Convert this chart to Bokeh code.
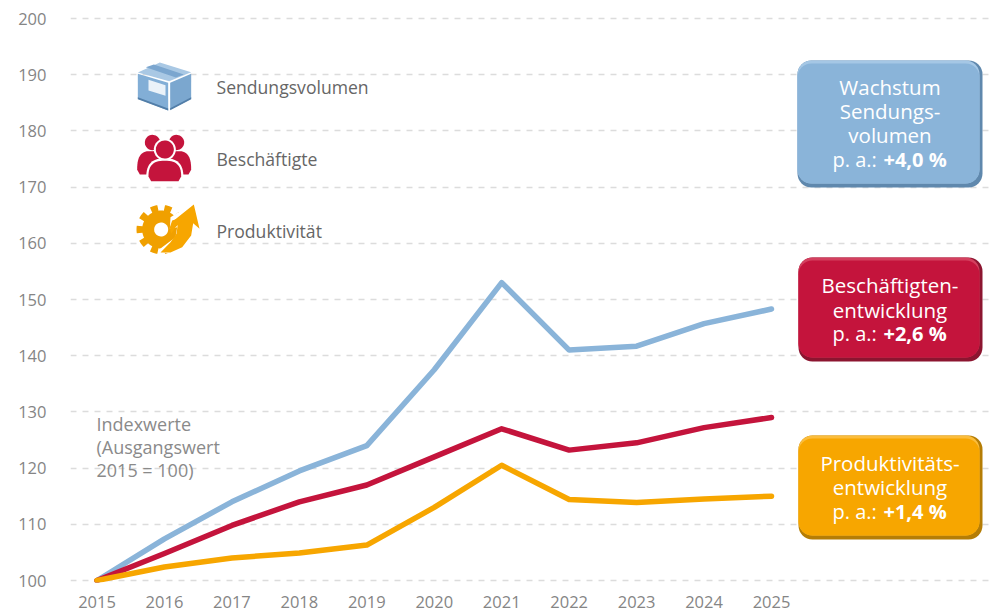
import numpy as np
from bokeh.plotting import figure
from bokeh.models import Range1d, Label, BoxAnnotation, FixedTicker
from bokeh.embed import file_html
from bokeh.resources import INLINE

years = [2015, 2016, 2017, 2018, 2019, 2020, 2021, 2022, 2023, 2024, 2025]
sendungen = [100, 107.4, 114, 119.5, 124, 137.5, 153, 141, 141.7, 145.7, 148.3]
beschaeftigte = [100, 104.8, 109.8, 114, 117, 122, 127, 123.2, 124.5, 127.2, 129]
produktivitaet = [100, 102.4, 104, 104.9, 106.3, 113, 120.5, 114.4, 113.9, 114.5, 115]
y_ticks = list(range(100, 201, 10))

BLUE, RED, ORANGE = "#8ab4d9", "#c4143c", "#f7a600"
FONT = "Open Sans"
W, H = 990, 612

PX_Y = 5.62
PX_X = 67.45
FRAME_L, FRAME_B = 70, 582
x0 = 2015 - (96.5 - FRAME_L) / PX_X
x1 = 2015 + (W - 96.5) / PX_X
y1 = 100 + 580 / PX_Y
y0 = 100 - (FRAME_B - 580) / PX_Y

p = figure(width=W, height=H, output_backend="svg", toolbar_location=None,
           x_range=Range1d(x0, x1), y_range=Range1d(y0, y1),
           min_border_left=FRAME_L, min_border_right=0, min_border_top=0, min_border_bottom=H - FRAME_B)
p.outline_line_color = None
p.background_fill_color = "white"
p.xgrid.visible = False
p.ygrid.grid_line_color = "#dcdcdc"
p.ygrid.grid_line_dash = "6 6"
p.ygrid.grid_line_width = 1.5
p.ygrid.ticker = FixedTicker(ticks=y_ticks)
for ax in (p.xaxis[0], p.yaxis[0]):
    ax.axis_line_color = None
    ax.major_tick_line_color = None
    ax.minor_tick_line_color = None
    ax.major_label_text_font = FONT
    ax.major_label_text_font_size = "16.5px"
    ax.major_label_text_color = "#858585"
p.xaxis[0].ticker = FixedTicker(ticks=years)
p.yaxis[0].ticker = FixedTicker(ticks=y_ticks)
p.xaxis[0].major_label_standoff = 7
p.yaxis[0].major_label_standoff = 18


def dx(px):
    return 2015 + (np.asarray(px, float) - 96.5) / PX_X


def dy(py):
    return 100 + (580 - np.asarray(py, float)) / PX_Y


def zpatch(pts, color):
    """Icon outline given in reference zoom coordinates."""
    a = np.array(pts, float)
    p.patch(dx(120 + a[:, 0] / 3), dy(50 + a[:, 1] / 3), fill_color=color, line_color=None)


# --- box icon
zpatch([(118, 36), (212, 65), (146, 92), (52, 66)], "#a9c8e4")
zpatch([(76, 50), (100, 42), (190, 72), (166, 81)], "#7ba6cf")
zpatch([(52, 70), (143, 97), (143, 180), (52, 145)], "#82aed6")
zpatch([(149, 97), (212, 70), (212, 145), (149, 178)], "#7ba7cf")
zpatch([(52, 140), (143, 174), (143, 180), (52, 146)], "#527ea8")
zpatch([(149, 173), (212, 140), (212, 146), (149, 179)], "#527ea8")
zpatch([(84, 88), (135, 104), (135, 136), (84, 120)], "#eaf2f9")


# --- people icon
def body(cx, top, bottom, hw):
    t = np.linspace(np.pi, 0, 30)
    xs = cx + hw * np.sign(np.cos(t)) * np.abs(np.cos(t)) ** 0.7
    ys = bottom - 14 - (bottom - 14 - top) * np.sin(t) ** 0.8
    return list(zip(xs, ys)) + [(cx + hw - 8, bottom), (cx - hw + 8, bottom)]


def disc(cx, cy, r):
    t = np.linspace(0, 2 * np.pi, 40)
    return list(zip(cx + r * np.cos(t), cy + r * np.sin(t)))


zpatch(body(90, 302, 372, 40), "#c4143c")
zpatch(body(172, 302, 372, 40), "#c4143c")
zpatch(disc(96, 276, 23), "#c4143c")
zpatch(disc(168, 276, 23), "#c4143c")
zpatch(disc(133, 297, 33), "white")
zpatch(body(133, 324, 398, 56), "white")
zpatch(disc(133, 297, 27), "#c4143c")
zpatch(body(133, 331, 392, 49), "#c4143c")

# --- gear and arrow icon
t = np.linspace(0, 2 * np.pi, 361)
r = 57 + 17 * (np.cos(10 * t) > -0.1)
gear = list(zip(122 + r * np.cos(t), 537 + r * np.sin(t)))
zpatch(gear, "#f0a000")
zpatch(disc(122, 537, 21), "white")
zpatch([(150, 500), (215, 460), (240, 540), (150, 612), (112, 600), (165, 560), (170, 530), (148, 535)], "white")
zpatch([(120, 606), (150, 575), (168, 550), (172, 520), (160, 510),
        (220, 462), (237, 535), (218, 518), (212, 555), (185, 590), (150, 606)], "#f7a600")
zpatch([(155, 510), (172, 505), (185, 512), (165, 530), (152, 550), (148, 530)], "#f7a600")

# --- data lines
for vals, col in ((sendungen, BLUE), (beschaeftigte, RED), (produktivitaet, ORANGE)):
    p.line(years, vals, line_color=col, line_width=5.5, line_join="round", line_cap="round")


def label(x, y, text, color, size, align="left", style="normal"):
    p.add_layout(Label(x=float(dx(x)), y=float(dy(y)), text=text,
                       text_color=color, text_font=FONT, text_font_size=f"{size}px",
                       text_align=align, text_baseline="middle", text_font_style=style))


def rbox(l, r, t, b, color, radius=14):
    p.add_layout(BoxAnnotation(left=float(dx(l)), right=float(dx(r)), top=float(dy(t)), bottom=float(dy(b)),
                               fill_color=color, fill_alpha=1, line_color=None,
                               border_radius=radius))


def panel(l, r, t, b, light, main, dark, lines, bold_text, bold_y):
    rbox(l, r, t, b, dark)
    rbox(l, r - 3, t, b - 4, light)
    rbox(l, r - 3, t + 3, b - 4, main)
    for py, txt in lines:
        label(889.5, py, txt, "white", 20.5, align="center")
    label(832, bold_y, "p. a.:", "white", 20)
    label(883, bold_y, bold_text, "white", 20, style="bold")


panel(797, 982, 60, 187, "#a5c7e5", BLUE, "#5f88ad",
      [(86, "Wachstum"), (110, "Sendungs-"), (134, "volumen")], "+4,0 %", 159)
panel(798, 982, 257, 361, "#d4405f", RED, "#8c1530",
      [(284, "Beschäftigten-"), (309, "entwicklung")], "+2,6 %", 333)
panel(798, 982, 435, 539, "#fbbd3c", ORANGE, "#b57d05",
      [(462, "Produktivitäts-"), (486, "entwicklung")], "+1,4 %", 511)

label(216, 86, "Sendungsvolumen", "#666666", 17.6)
label(216, 158, "Beschäftigte", "#666666", 17.6)
label(216, 230, "Produktivität", "#666666", 17.6)
label(96, 423, "Indexwerte", "#8a8a8a", 18)
label(96, 446, "(Ausgangswert", "#8a8a8a", 18)
label(96, 469, "2015 = 100)", "#8a8a8a", 18)

open("out.html", "w").write(file_html(p, INLINE))
